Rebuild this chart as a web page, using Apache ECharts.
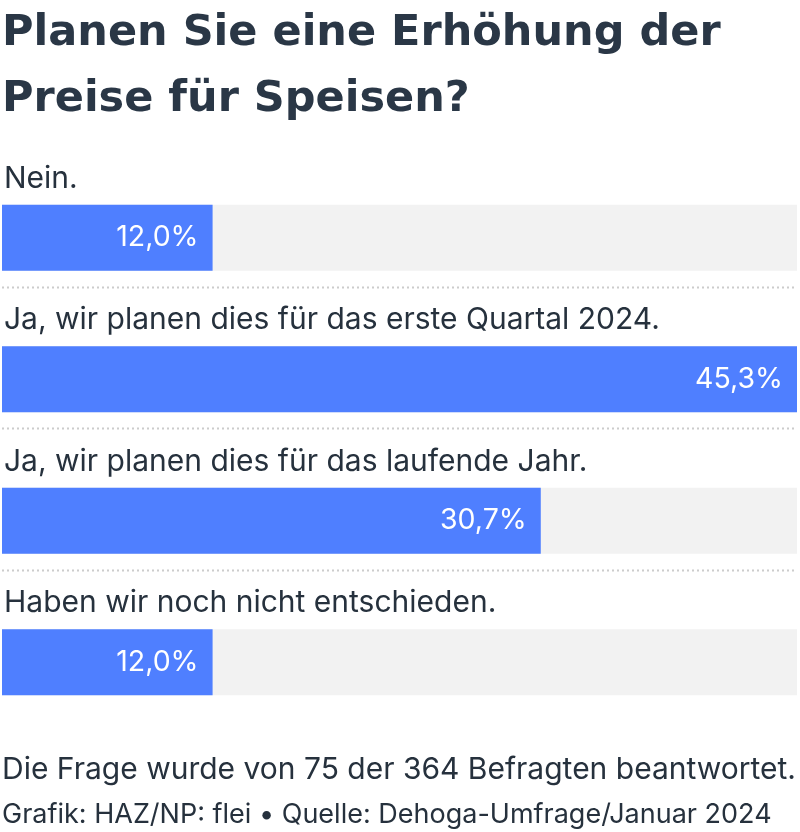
<!DOCTYPE html>
<html>
<head>
<meta charset="utf-8">
<script src="https://cdn.jsdelivr.net/npm/echarts@6/dist/echarts.min.js"></script>
<style>html,body{margin:0;padding:0;background:#fff}#c{width:800px;height:832px}</style>
</head>
<body>
<div id="c"></div>
<script>
const titleText = 'Planen Sie eine Erhöhung der\nPreise für Speisen?';
const categories = [
  'Nein.',
  'Ja, wir planen dies für das erste Quartal 2024.',
  'Ja, wir planen dies für das laufende Jahr.',
  'Haben wir noch nicht entschieden.'
];
const values = [12.0, 45.3, 30.7, 12.0];
const noteText = 'Die Frage wurde von 75 der 364 Befragten beantwortet.';
const sourceText = 'Grafik: HAZ/NP: flei • Quelle: Dehoga-Umfrage/Januar 2024';

const textColor = '#26313d';
const chart = echarts.init(document.getElementById('c'));
chart.setOption({
  animation: false,
  title: [
    { text: titleText, left: 2, top: 1, padding: 0,
      textStyle: { fontFamily: 'DejaVu Sans', fontWeight: 'bold', fontSize: 43, lineHeight: 66, color: '#2a3746' } },
    { text: noteText, left: 2, top: 755, padding: 0,
      textStyle: { fontFamily: 'Inter', fontWeight: 'normal', fontSize: 30, color: textColor } },
    { text: sourceText, left: 2, top: 801, padding: 0,
      textStyle: { fontFamily: 'Inter', fontWeight: 'normal', fontSize: 27, color: textColor } }
  ],
  grid: { left: 2, right: 3, top: 167, height: 566 },
  xAxis: { type: 'value', min: 0, max: 45.3, show: false },
  yAxis: {
    type: 'category', data: categories, inverse: true, show: false
  },
  series: [
    {
      type: 'bar', data: values, barWidth: 66,
      itemStyle: { color: '#4f7fff' },
      showBackground: true, backgroundStyle: { color: '#f2f2f2' },
      label: {
        show: true, position: 'insideRight', distance: 14,
        fontFamily: 'Inter', fontSize: 28.5, color: '#ffffff',
        formatter: p => p.value.toFixed(1).replace('.', ',') + '%'
      },
      silent: true
    },
    {
      type: 'custom',
      data: categories.map(c => [0, c]),
      encode: { x: 0, y: 1 },
      silent: true,
      renderItem: function (params, api) {
        const idx = params.dataIndex;
        const p = api.coord([0, api.value(1)]);
        const h = api.size([0, 1])[1];
        const cs = params.coordSys;
        const children = [{
          type: 'text',
          style: {
            text: categories[idx], x: cs.x + 2, y: p[1] - h * 0.418,
            verticalAlign: 'middle', align: 'left',
            font: '30px Inter', fill: textColor
          }
        }];
        if (idx < categories.length - 1) {
          const y = Math.round(p[1] + h * 0.346) + 0.5;
          children.push({
            type: 'line',
            shape: { x1: cs.x, y1: y, x2: cs.x + cs.width, y2: y },
            style: { stroke: '#cccccc', lineWidth: 2, lineDash: [2, 3] }
          });
        }
        return { type: 'group', children: children };
      }
    }
  ]
});
</script>
</body>
</html>
